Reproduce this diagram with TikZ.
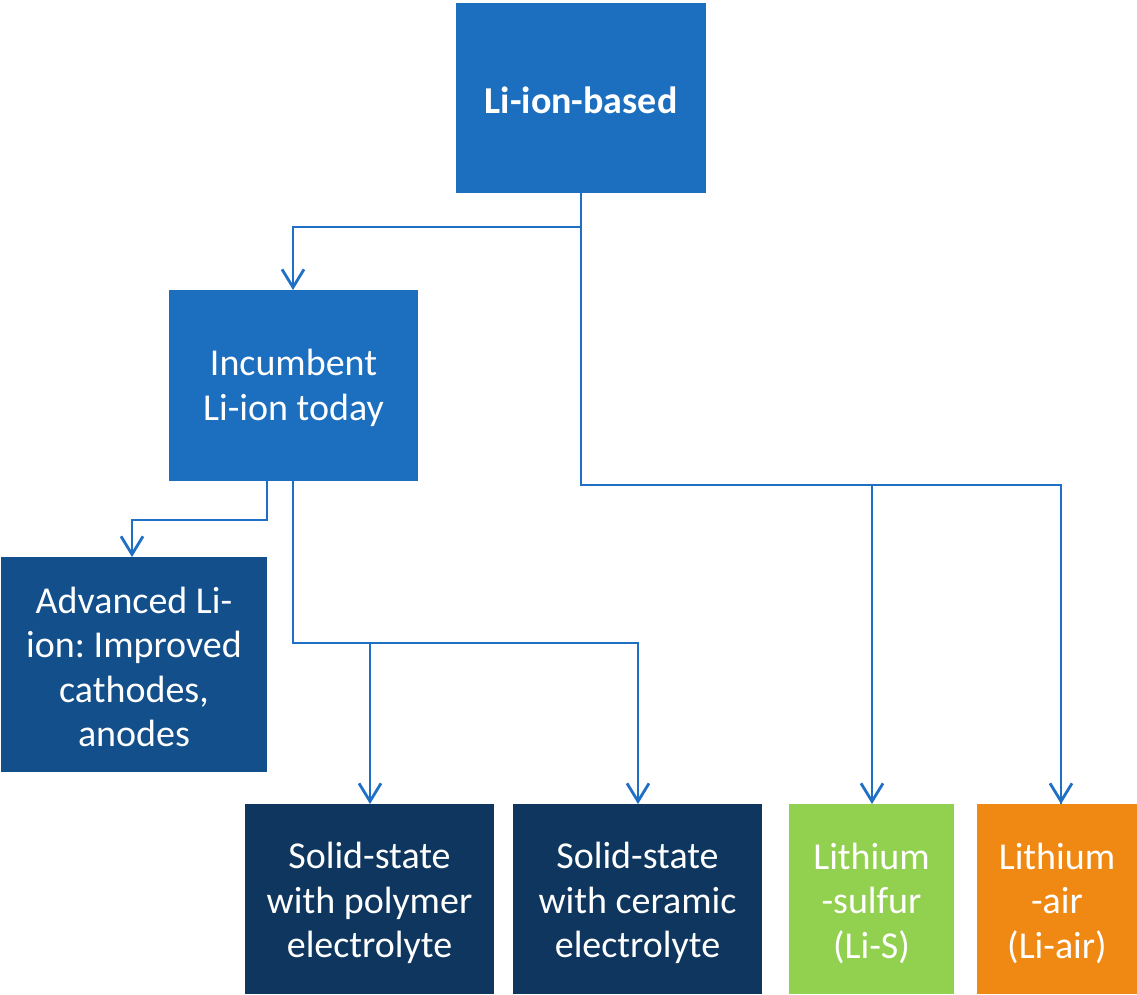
\documentclass[tikz,border=0pt]{standalone}
\usepackage{fontspec}
\setmainfont{Carlito}
\usetikzlibrary{arrows.meta}
\frenchspacing
\definecolor{midblue}{HTML}{1C6EBF}
\definecolor{advblue}{HTML}{134F8B}
\definecolor{darkblue}{HTML}{0E365E}
\definecolor{lgreen}{HTML}{92D050}
\definecolor{orng}{HTML}{F08913}
\definecolor{lineblue}{HTML}{1F70C4}
\begin{document}
\begin{tikzpicture}[x=1pt,y=-1pt,
  box/.style={draw=none,text=white,align=center,inner sep=0pt,font=\fontsize{38}{44.5}\selectfont},
  conn/.style={draw=lineblue,line width=2.8pt,-{Straight Barb[length=18pt,width=22pt,line width=2.8pt]}},
  seg/.style={draw=lineblue,line width=2.8pt}]
\useasboundingbox (0,0) rectangle (1137,995);
\fill[midblue] (456,3) rectangle (706,193);
\node[box,font=\bfseries\fontsize{38}{44}\selectfont] (top) at (581,100) {Li-ion-based};
\coordinate (topS) at (581,193);
\fill[midblue] (169,290) rectangle (418,481);
\node[box] (inc) at (293.5,388) {Incumbent\\Li-ion today};
\coordinate (incN) at (293,290);
\coordinate (incS1) at (267,481);
\coordinate (incS2) at (293,481);
\fill[advblue] (1,557) rectangle (267,772);
\node[box] (adv) at (134,667) {Advanced Li-\\ion: Improved\\cathodes,\\anodes};
\coordinate (advN) at (132,557);
\fill[darkblue] (245,804) rectangle (494,994);
\node[box] (poly) at (369.5,903) {Solid-state\\with polymer\\electrolyte};
\coordinate (polyN) at (370,804);
\fill[darkblue] (513,804) rectangle (762,994);
\node[box] (cer) at (637.5,903) {Solid-state\\with ceramic\\electrolyte};
\coordinate (cerN) at (638,804);
\fill[lgreen] (789,804) rectangle (954,994);
\node[box] (ls) at (871.5,903) {Lithium\\-sulfur\\(Li-S)};
\coordinate (lsN) at (872,804);
\fill[orng] (977,804) rectangle (1137,994);
\node[box] (la) at (1057,903) {Lithium\\-air\\(Li-air)};
\coordinate (laN) at (1061,804);
% connectors
\draw[conn] (topS) |- (293,227) -- (incN);
\draw[seg] (topS) -- (581,485) -| (laN);
\draw[conn] (1061,484) -- (laN);
\draw[conn] (872,485) -- (lsN);
\draw[seg] (incS1) |- (132,520);
\draw[conn] (132,519) -- (advN);
\draw[seg] (incS2) |- (638,643);
\draw[conn] (638,642) -- (cerN);
\draw[conn] (370,643) -- (polyN);
\end{tikzpicture}
\end{document}
